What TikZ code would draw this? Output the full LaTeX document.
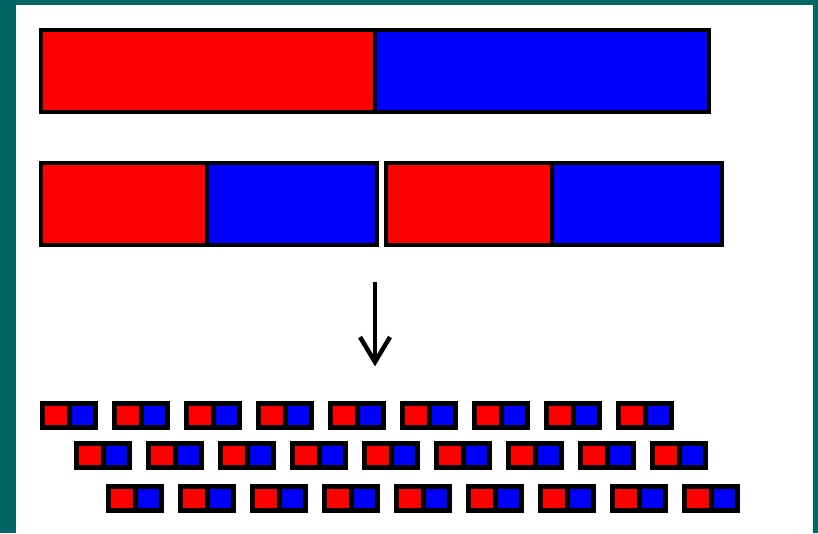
\documentclass[tikz,border=0pt]{standalone}
\definecolor{frameteal}{RGB}{0,102,102}
\definecolor{pure red}{RGB}{255,0,0}
\definecolor{pure blue}{RGB}{0,0,255}
\tikzset{
  outline/.style={draw=black, line width=4.2pt},
  arrowstroke/.style={draw=black, line width=4.5pt, line cap=butt, line join=miter},
  pics/minipair/.style={code={
    \fill[black] (0,0) rectangle (58,29);
    \fill[pure red] (5,5) rectangle (27,24);
    \fill[pure blue] (32,5) rectangle (53,24);
  }}
}
\begin{document}
\begin{tikzpicture}[x=1pt,y=-1pt]
  \useasboundingbox (0,0) rectangle (818,533);
  % frame
  \fill[frameteal] (0,0) rectangle (818,533);
  \fill[white] (16,5) rectangle (813,533);

  % long bar, split in halves
  \fill[pure red]  (41,30) rectangle (375,112);
  \fill[pure blue] (375,30) rectangle (709,112);
  \draw[outline] (41,30) rectangle (709,112);
  \draw[outline] (375,30) -- (375,112);

  % two half-length bars
  \foreach \x in {41,386}{
    \fill[pure red]  (\x,163) rectangle (\x+166,245);
    \fill[pure blue] (\x+166,163) rectangle (\x+336,245);
    \draw[outline] (\x,163) rectangle (\x+336,245);
    \draw[outline] (\x+166,163) -- (\x+166,245);
  }

  % arrow (yshift is in page direction: positive is up)
  \coordinate (arrowtop) at (375,282);
  \coordinate (arrowtip) at (375,362);
  \draw[arrowstroke] (arrowtop) -- ([yshift=4]arrowtip);
  \draw[arrowstroke] ([xshift=-15,yshift=25]arrowtip) -- (arrowtip) -- ([xshift=15,yshift=25]arrowtip);

  % rows of small pairs
  \foreach \i in {0,...,8}{
    \pic at ({40+72*\i},401) {minipair};
    \pic at ({74+72*\i},441) {minipair};
    \pic at ({106+72*\i},484) {minipair};
  }
\end{tikzpicture}
\end{document}
